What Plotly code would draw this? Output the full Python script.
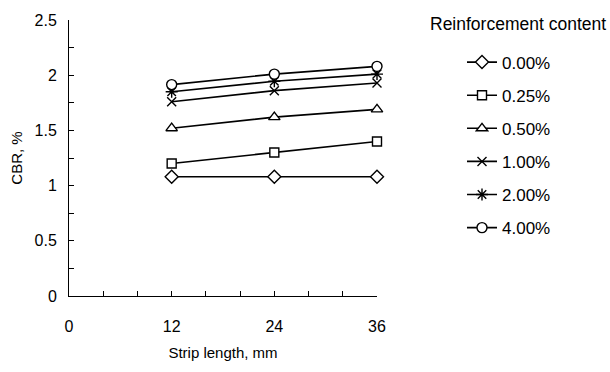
import plotly.graph_objects as go

strip_length = [12, 24, 36]
content_labels = ["0.00%", "0.25%", "0.50%", "1.00%", "2.00%", "4.00%"]
cbr_000 = [1.08, 1.08, 1.08]
cbr_025 = [1.20, 1.30, 1.40]
cbr_050 = [1.52, 1.62, 1.69]
cbr_100 = [1.76, 1.86, 1.93]
cbr_200 = [1.85, 1.945, 2.01]
cbr_400 = [1.915, 2.01, 2.08]

series = [cbr_000, cbr_025, cbr_050, cbr_100, cbr_200, cbr_400]
# (symbol, size, fill colour) -- hollow shapes are white-filled so the line stops at the rim
markers = [
    ("diamond", 10, "white"),
    ("square", 9, "white"),
    ("triangle-up", 10, "white"),
    ("x-thin-open", 9, "black"),
    ("asterisk-open", 10, "black"),
    ("circle", 10, "white"),
]

FONT = "Liberation Sans, Arial, sans-serif"
W, H = 610, 372
L, R, T, B = 69, 233, 15, 76
plot_w = W - L - R
plot_h = H - T - B


def px_x(px):
    return (px - L) / plot_w


def px_y(py):
    return (H - B - py) / plot_h


fig = go.Figure()
for i, (lab, ys, (sym, sz, fill)) in enumerate(zip(content_labels, series, markers)):
    fig.add_trace(go.Scatter(
        x=strip_length, y=ys, name=lab, mode="lines+markers",
        line=dict(color="black", width=1.6),
        marker=dict(symbol=sym, size=sz, color=fill,
                    line=dict(color="black", width=1.4)),
        legendgroup=f"g{i}", cliponaxis=False,
    ))

fig.update_layout(
    width=W, height=H,
    margin=dict(l=L, r=R, t=T, b=B),
    paper_bgcolor="white", plot_bgcolor="white",
    font=dict(family=FONT, size=15, color="black"),
    showlegend=True,
    legend=dict(
        x=px_x(462), y=px_y(40),
        xanchor="left", yanchor="top",
        font=dict(family=FONT, size=17, color="black"),
        tracegroupgap=8, itemwidth=30,
        bgcolor="rgba(0,0,0,0)",
    ),
    annotations=[dict(
        text="Reinforcement content", x=px_x(428), y=px_y(19),
        xref="paper", yref="paper", showarrow=False,
        font=dict(family=FONT, size=17.5, color="black"),
        xanchor="left", yanchor="middle",
    )],
)

fig.update_xaxes(
    range=[0, 36], tickvals=[0, 12, 24, 36], ticktext=["0", "12", "24", "36"],
    showline=True, linecolor="black", linewidth=1,
    ticks="inside", ticklen=5, tickcolor="black",
    minor=dict(dtick=4, tick0=0, ticks="inside", ticklen=5, tickcolor="black"),
    showgrid=False, zeroline=False, ticklabelstandoff=16,
    title=dict(text="Strip length, mm", standoff=13, font=dict(size=15)),
    tickfont=dict(size=16),
)
fig.update_yaxes(
    range=[0, 2.5], tickvals=[0, 0.5, 1, 1.5, 2, 2.5],
    ticktext=["0", "0.5", "1", "1.5", "2", "2.5"],
    showline=True, linecolor="black", linewidth=1,
    ticks="inside", ticklen=5, tickcolor="black",
    minor=dict(dtick=0.25, tick0=0, ticks="inside", ticklen=5, tickcolor="black"),
    showgrid=False, zeroline=False, ticklabelstandoff=8,
    title=dict(text="CBR, %", standoff=8, font=dict(size=15)),
    tickfont=dict(size=16),
)

fig.write_html("out.html")
